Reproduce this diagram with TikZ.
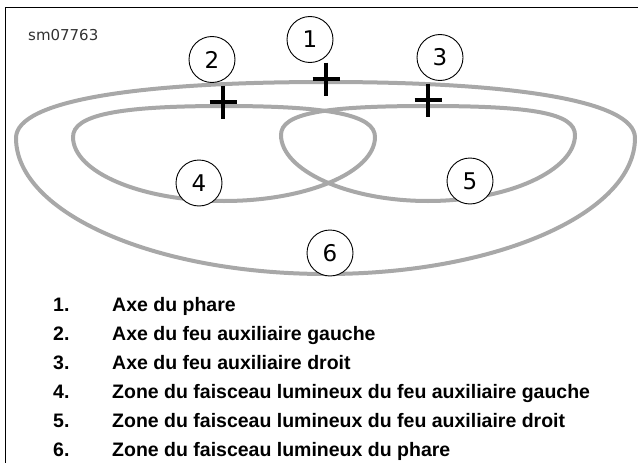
\documentclass[tikz,border=0pt]{standalone}
\usepackage{fontspec}
\newfontfamily\tagfont{DejaVu Sans}
\newfontfamily\legendfont{Liberation Sans}
\usetikzlibrary{positioning}
\definecolor{beamgray}{RGB}{168,168,168}
\definecolor{tagtext}{RGB}{50,50,50}

\begin{document}
\begin{tikzpicture}[x=1pt, y=-1pt,
    beam/.style={draw=beamgray, line width=4pt},
    axismark/.style={draw=black, line width=3.8pt},
    callout/.style={circle, draw=black, line width=0.9pt, fill=white,
                    minimum size=46pt, inner sep=0pt,
                    font=\tagfont\fontsize{23}{23}\selectfont},
    legnum/.style={anchor=base west, inner sep=0pt,
                   font=\legendfont\bfseries\fontsize{19.5}{22}\selectfont}
]
\useasboundingbox (0,0) rectangle (638,463);
\draw[line width=1.2pt] (5.5,463) -- (5.5,7.5) -- (638,7.5);
\node[anchor=base west, inner sep=0pt, text=tagtext,
      font=\tagfont\fontsize{15}{15}\selectfont] (tag) at (28,41) {sm07763};

% beam zones
\draw[beam] (16,138) .. controls (16,100) and (140,82) .. (326,82)
    .. controls (510,82) and (635,100) .. (635,138)
    .. controls (635,213) and (497,274) .. (326,274)
    .. controls (155,274) and (16,213) .. cycle;
\draw[beam] (73,137) .. controls (73,115) and (118,106) .. (224,106)
    .. controls (330,106) and (375,115) .. (375,137)
    .. controls (375,172) and (307,201) .. (224,201)
    .. controls (141,201) and (73,172) .. cycle;
\draw[beam] (281,135) .. controls (281,113) and (325,106) .. (428,106)
    .. controls (531,106) and (575,113) .. (575,135)
    .. controls (575,170) and (509,201) .. (428,201)
    .. controls (347,201) and (281,170) .. cycle;

% axes
\coordinate (ax1) at (326,79);
\coordinate (ax2) at (223,102);
\coordinate (ax3) at (428,100);
\foreach \i in {1,2,3}
    \draw[axismark] (ax\i) ++(-13.5,0) -- ++(27,0)
                    (ax\i) ++(0,-16.5) -- ++(0,33);

% callouts
\node[callout] (c1) at (310,39.5) {1};
\node[callout] (c2) at (212,59.5) {2};
\node[callout] (c3) at (440,57.5) {3};
\node[callout] (c4) at (199,183) {4};
\node[callout] (c5) at (470,181) {5};
\node[callout] (c6) at (330,253) {6};

% legend
\foreach \n/\txt in {1/Axe du phare,
                     2/Axe du feu auxiliaire gauche,
                     3/Axe du feu auxiliaire droit,
                     4/Zone du faisceau lumineux du feu auxiliaire gauche,
                     5/Zone du faisceau lumineux du feu auxiliaire droit,
                     6/Zone du faisceau lumineux du phare} {
    \node[legnum] (num\n) at (53,282+29*\n) {\n.};
    \node[legnum] (leg\n) at (112,282+29*\n) {\txt};
}
\end{tikzpicture}
\end{document}
